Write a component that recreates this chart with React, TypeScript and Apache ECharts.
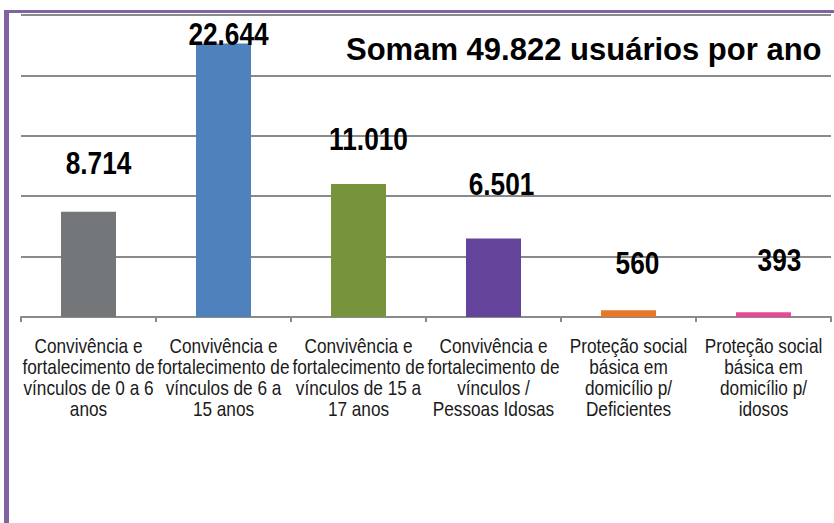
import React, { useEffect, useRef } from "react";
import * as echarts from "echarts";

const categories: string[] = [
  "Convivência e\nfortalecimento de\nvínculos de 0 a 6\nanos",
  "Convivência e\nfortalecimento de\nvínculos de 6 a\n15 anos",
  "Convivência e\nfortalecimento de\nvínculos de 15 a\n17 anos",
  "Convivência e\nfortalecimento de\nvínculos /\nPessoas Idosas",
  "Proteção social\nbásica em\ndomicílio p/\nDeficientes",
  "Proteção social\nbásica em\ndomicílio p/\nidosos",
];
const users: number[] = [8714, 22644, 11010, 6501, 560, 393];
const barColors: string[] = ["#74777A", "#4F81BD", "#77933C", "#64449A", "#E8772A", "#E8489A"];
// label placement (style): horizontal shift and gap of label centre above the bar top
const labelShift: [number, number][] = [
  [10, 49],
  [5, 9.5],
  [10, 45],
  [8, 54],
  [9, 47],
  [16, 52],
];
const titleText = "Somam 49.822 usuários por ano";
const yMin = 0;
const yMax = 25000;
const yStep = 5000;

function fmt(v: number): string {
  return String(v).replace(/\B(?=(\d{3})+(?!\d))/g, ".");
}

export default function App() {
  const ref = useRef<HTMLDivElement>(null);
  useEffect(() => {
    if (!ref.current) return;
    const chart = echarts.init(ref.current, null, { renderer: "svg" });
    const purple = "#8064A2";
    const narrow = 0.82;
    chart.setOption({
      animation: false,
      backgroundColor: "#ffffff",
      grid: { left: 21, right: 3, top: 15, bottom: 206 },
      xAxis: {
        type: "category",
        data: categories,
        boundaryGap: true,
        axisLine: { show: true, lineStyle: { color: "#8a8a8a", width: 2 } },
        axisTick: { show: true, length: 5, lineStyle: { color: "#8a8a8a", width: 2 } },
        axisLabel: { show: false },
      },
      yAxis: {
        type: "value",
        min: yMin,
        max: yMax,
        interval: yStep,
        axisLine: { show: false },
        axisTick: { show: false },
        axisLabel: { show: false },
        splitLine: { show: true, lineStyle: { color: "#8a8a8a", width: 2 } },
      },
      series: [
        {
          type: "bar",
          barWidth: 55,
          data: users.map((v, i) => ({
            value: v,
            itemStyle: { color: barColors[i] },
          })),
        },
      ],
    });

    const graphics: any[] = [
      { type: "rect", shape: { x: 4, y: 10, width: 830, height: 3 }, style: { fill: purple }, z: 100 },
      { type: "rect", shape: { x: 4, y: 10, width: 5, height: 513 }, style: { fill: purple }, z: 100 },
      {
        type: "text",
        x: 346,
        y: 49,
        z: 100,
        style: {
          text: titleText,
          fill: "#000000",
          font: "bold 31px 'Liberation Sans', Arial, sans-serif",
          align: "left",
          verticalAlign: "middle",
        },
      },
    ];

    const base = chart.convertToPixel({ seriesIndex: 0 }, [0, 0]) as number[];
    const axisY = base[1];
    categories.forEach((c, i) => {
      const p = chart.convertToPixel({ seriesIndex: 0 }, [i, 0]) as number[];
      graphics.push({
        type: "text",
        x: p[0],
        y: axisY + 18,
        scaleX: narrow,
        z: 50,
        style: {
          text: c,
          fill: "#1a1a1a",
          font: "21px 'Liberation Sans', Arial, sans-serif",
          lineHeight: 21,
          align: "center",
          verticalAlign: "top",
        },
      });
    });
    users.forEach((v, i) => {
      const p = chart.convertToPixel({ seriesIndex: 0 }, [i, v]) as number[];
      graphics.push({
        type: "text",
        x: p[0] + labelShift[i][0],
        y: p[1] - labelShift[i][1],
        scaleX: narrow,
        z: 60,
        style: {
          text: fmt(v),
          fill: "#000000",
          font: "bold 32px 'Liberation Sans', Arial, sans-serif",
          align: "center",
          verticalAlign: "middle",
        },
      });
    });
    chart.setOption({ graphic: graphics });
    return () => chart.dispose();
  }, []);
  return (
    <div
      ref={ref}
      style={{ position: "fixed", left: 0, top: 0, width: 834, height: 523, background: "#fff" }}
    />
  );
}
